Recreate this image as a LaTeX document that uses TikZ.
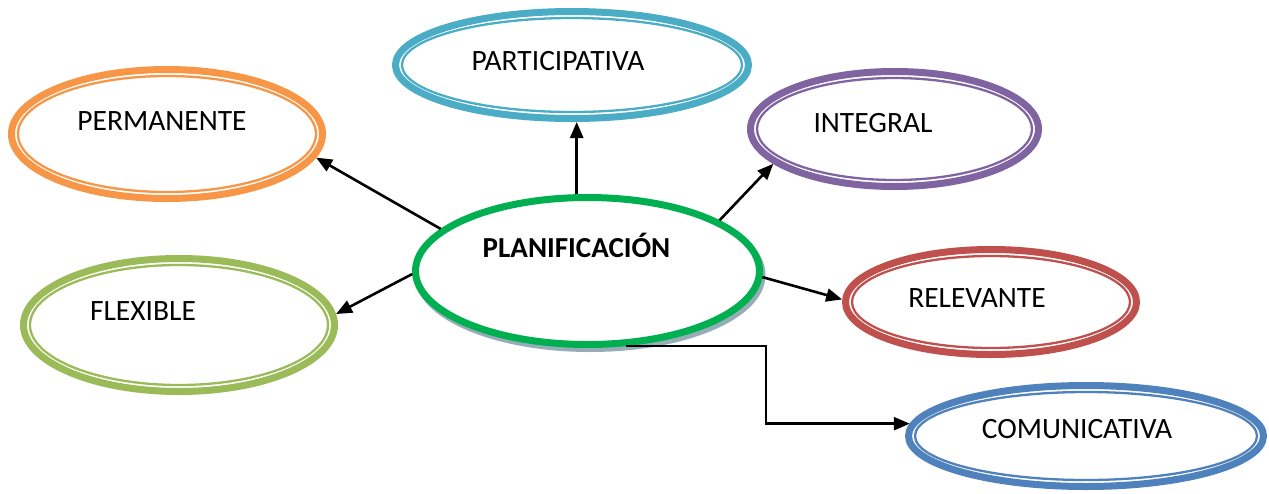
\documentclass[tikz,border=0pt]{standalone}
\usepackage{fontspec}
\setmainfont{Carlito}
\usetikzlibrary{shapes.geometric,arrows.meta,calc}
\definecolor{cOrange}{HTML}{F79646}
\definecolor{cTeal}{HTML}{4BACC6}
\definecolor{cPurple}{HTML}{8064A2}
\definecolor{cGreen}{HTML}{00B050}
\definecolor{cLime}{HTML}{9BBB59}
\definecolor{cRed}{HTML}{C0504D}
\definecolor{cBlue}{HTML}{4F81BD}
\definecolor{cShadow}{RGB}{150,172,182}
\tikzset{
  oval/.style={ellipse, draw=#1, line width=7pt, fill=white, inner sep=0pt},
  lbl/.style={anchor=base, inner sep=0pt, font=\fontsize{29.5}{31}\selectfont},
  arr/.style={line width=2.6pt, -{Triangle[length=16pt,width=13pt]}},
}
\newcommand\myoval[6]{%
  \node[oval=#2, minimum width={(#5-3.5)*2pt}, minimum height={(#6-3.5)*2pt}] (#1) at (#3,#4) {};
  \draw[#2, line width=2.3pt] (#1.center) ellipse [x radius=#5-10, y radius=#6-10];
}
\begin{document}
\begin{tikzpicture}[x=1pt,y=-1pt]
\useasboundingbox[fill=white] (0,0) rectangle (1269,493);
% outer ovals
\myoval{perm}{cOrange}{167}{134}{159}{68}
\myoval{part}{cTeal}{572}{65}{180}{57}
\myoval{integ}{cPurple}{894.5}{129}{147.5}{61}
\myoval{flex}{cLime}{179}{325}{159}{70}
\myoval{rel}{cRed}{991}{302}{149}{56}
\myoval{comu}{cBlue}{1086}{436}{181}{54}
% central oval with shadow
\node[ellipse, draw=cShadow, line width=7pt, inner sep=0pt, minimum width=344pt, minimum height=147pt] (plansh) at (590,275) {};
\node[oval=cGreen, line width=7pt, minimum width=344pt, minimum height=147pt] (plan) at (587.5,271) {};
% texts
\node[lbl] (perm-t) at (162,130) {PERMANENTE};
\node[lbl] (part-t) at (558,70) {PARTICIPATIVA};
\node[lbl] (integ-t) at (873,132) {INTEGRAL};
\node[lbl, font=\fontsize{29}{31}\selectfont\bfseries] (plan-t) at (576.5,257) {PLANIFICACIÓN};
\node[lbl] (flex-t) at (143,320) {FLEXIBLE};
\node[lbl] (rel-t) at (977,307) {RELEVANTE};
\node[lbl] (comu-t) at (1077,438) {COMUNICATIVA};
% connectors
\draw[arr] (plan.164.8) -- (perm.351);
\draw[arr] (plan.98) -- (plan.98 |- part.south);
\draw[arr] (plan.21.8) -- (integ.196.4);
\draw[arr] (plan.181.9) -- (flex.4.5);
\draw[arr] (plan.358) -- (rel.179);
\coordinate (bx) at (766,0);
\draw[arr] (plan.297.4) -- (plan.297.4 -| bx) |- (comu.176.25);
\end{tikzpicture}
\end{document}
